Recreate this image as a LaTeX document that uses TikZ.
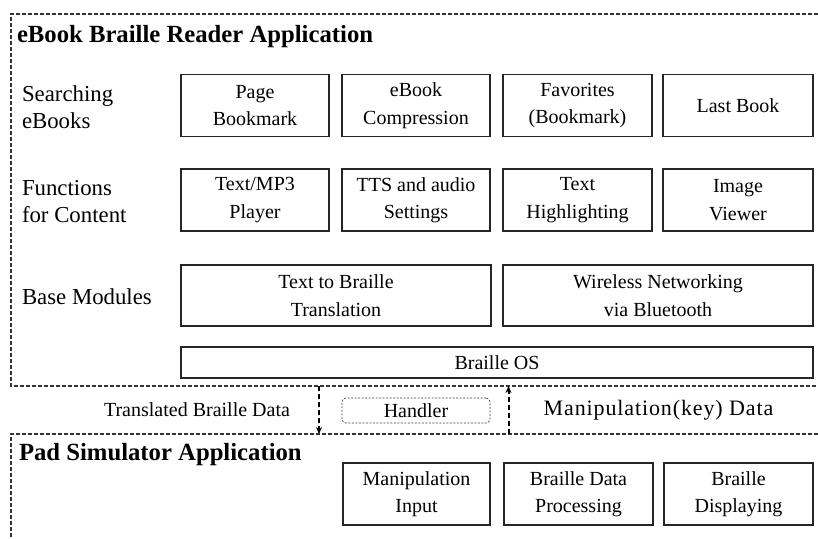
\documentclass[tikz,border=0pt]{standalone}
\usepackage{fontspec}
\setmainfont{Liberation Serif}
\usetikzlibrary{arrows.meta}
\begin{document}
\begin{tikzpicture}[x=1pt,y=-1pt,
  every node/.style={inner sep=0pt,outer sep=0pt},
  txt/.style={font=\fontsize{20}{27.5}\selectfont,align=center},
  lbl/.style={font=\fontsize{22.8}{27.5}\selectfont,align=left,anchor=west},
  title/.style={font=\fontsize{24.7}{30}\selectfont\bfseries,anchor=base west},
  modbox/.style={txt,draw=black!85,line width=1.1pt,minimum height=62pt},
  frame/.style={draw=black!80,line width=1.3pt,dash pattern=on 4pt off 2pt},
  flow/.style={draw=black,line width=2pt,dash pattern=on 5pt off 3pt,
    -{Stealth[length=7pt,width=6pt]}},
  handlerbox/.style={txt,draw=black!75,line width=0.7pt,dash pattern=on 2pt off 1.5pt,
    rounded corners=4pt,minimum width=148pt,minimum height=25pt}
]
\useasboundingbox (0,0) rectangle (818,538);

% application frames (open towards the right and bottom)
\draw[frame] (818,14) -- (11,14) -- (11,386) -- (818,386);
\draw[frame] (818,434) -- (11,434) -- (11,538);

% eBook Braille Reader Application
\node[title] (t1) at (17,42) {eBook Braille Reader Application};

\node[lbl] (l1) at (22,107) {Searching\\eBooks};
\node[lbl] (l2) at (22,201.5) {Functions\\for Content};
\node[lbl] (l3) at (22,297) {Base Modules};

\node[modbox,minimum width=148pt] (b11) at (255,105.5) {Page\\Bookmark};
\node[modbox,minimum width=148pt] (b12) at (416,105.5) {eBook\\Compression};
\node[modbox,minimum width=149pt] (b13) at (577.5,105.5) {Favorites\\(Bookmark)};
\node[modbox,minimum width=150pt] (b14) at (738,105.5) {Last Book};

\node[modbox,minimum width=148pt] (b21) at (255,200) {Text/MP3\\Player};
\node[modbox,minimum width=148pt] (b22) at (416,200) {TTS and audio\\Settings};
\node[modbox,minimum width=149pt] (b23) at (577.5,200) {Text\\Highlighting};
\node[modbox,minimum width=150pt] (b24) at (738,200) {Image\\Viewer};

\node[modbox,minimum width=310pt,minimum height=61pt] (b31) at (336,295.5) {Text to Braille\\Translation};
\node[modbox,minimum width=310pt,minimum height=61pt] (b32) at (658,295.5) {Wireless Networking\\via Bluetooth};

\node[modbox,minimum width=632pt,minimum height=31pt] (os) at (497,362.5) {Braille OS};

% data exchange between the two applications
\coordinate (dtop) at (319,386);
\coordinate (dbot) at (319,434);
\coordinate (utop) at (508.5,386);
\coordinate (ubot) at (508.5,434);
\draw[flow] (dtop) -- (dbot);
\draw[flow] (ubot) -- (utop);

\node[txt] (tbd) at (197,410) {Translated Braille Data};
\node[handlerbox] (hd) at (416,410.5) {Handler};
\node[txt,font=\fontsize{22}{27.5}\selectfont\addfontfeature{LetterSpace=4}] (mkd) at (658.5,410) {Manipulation(key) Data};

% Pad Simulator Application
\node[title] (t2) at (19,460) {Pad Simulator Application};

\node[modbox,minimum width=147pt] (p1) at (416.5,494) {Manipulation\\Input};
\node[modbox,minimum width=149pt] (p2) at (578.5,494) {Braille Data\\Processing};
\node[modbox,minimum width=149pt] (p3) at (738.5,494) {Braille\\Displaying};
\end{tikzpicture}
\end{document}
